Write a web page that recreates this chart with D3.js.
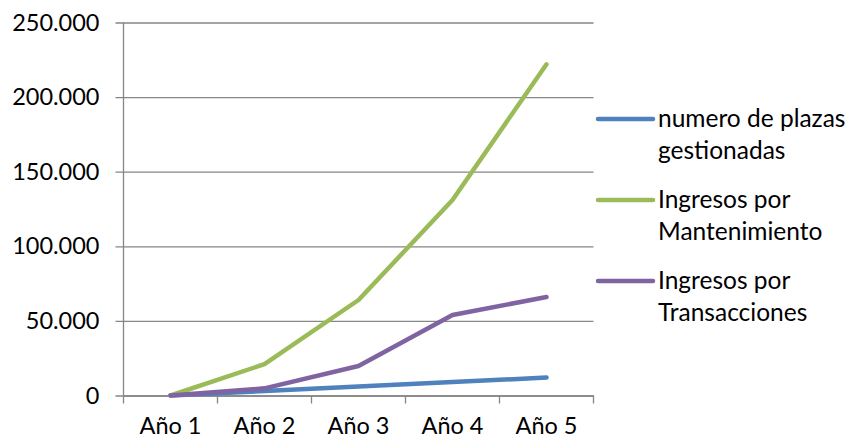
<!DOCTYPE html>
<html>
<head>
<meta charset="utf-8">
<script src="https://cdn.jsdelivr.net/npm/d3@7"></script>
<style>
  html, body { margin: 0; padding: 0; background: #fff; }
  svg text { font-family: Lato, "Open Sans", sans-serif; fill: #000; }
</style>
</head>
<body>
<svg id="chart" width="852" height="439"></svg>
<script>
// Años del plan
const categories = ["Año 1", "Año 2", "Año 3", "Año 4", "Año 5"];

// Series
const plazasGestionadas = [0, 3000, 6000, 9000, 12000];
const ingresosMantenimiento = [0, 21000, 64000, 131000, 222000];
const ingresosTransacciones = [0, 4800, 19800, 54000, 66000];

const seriesNames = ["numero de plazas gestionadas", "Ingresos por Mantenimiento", "Ingresos por Transacciones"];
const legendLines = [["numero de plazas", "gestionadas"], ["Ingresos por", "Mantenimiento"], ["Ingresos por", "Transacciones"]];
const seriesColors = ["#4F81BD", "#9BBB59", "#8064A2"];

// Y axis ticks
const yTicks = [0, 50000, 100000, 150000, 200000, 250000];

const series = [plazasGestionadas, ingresosMantenimiento, ingresosTransacciones];

const svg = d3.select("#chart");
const plot = { left: 123.5, right: 593.5, top: 22.5, bottom: 395.5 };
const fontSize = 23.5;

const x = d3.scaleBand().domain(categories).range([plot.left, plot.right]);
const y = d3.scaleLinear().domain([0, 250000]).range([plot.bottom, plot.top]);

const fmt = v => d3.format(",")(v).replace(/,/g, ".");
const gridColor = "#868686";

// Horizontal gridlines with left ticks
svg.append("g")
  .attr("transform", `translate(${plot.left},0)`)
  .call(d3.axisLeft(y).tickValues(yTicks).tickFormat(fmt)
    .tickSize(-(plot.right - plot.left)))
  .call(g => g.select(".domain").remove())
  .call(g => g.selectAll(".tick line").attr("stroke", gridColor).attr("stroke-width", 1.3)
      .attr("x1", -8))
  .call(g => g.selectAll(".tick text").attr("font-size", fontSize).attr("x", -24)
      .style("font-family", "Lato, 'Open Sans', sans-serif"));

// Vertical axis line
svg.append("line")
  .attr("x1", plot.left).attr("x2", plot.left)
  .attr("y1", plot.top).attr("y2", plot.bottom)
  .attr("stroke", gridColor).attr("stroke-width", 1.3);

// Category axis
const xAxis = svg.append("g")
  .attr("transform", `translate(0,${plot.bottom})`)
  .call(d3.axisBottom(x).tickSize(0).tickPadding(22));
xAxis.select(".domain").attr("stroke", gridColor).attr("stroke-width", 1.3);
xAxis.selectAll(".tick text").attr("font-size", fontSize)
  .style("font-family", "Lato, 'Open Sans', sans-serif");

// Category boundary ticks
const bounds = categories.map(c => x(c)).concat([x(categories[categories.length - 1]) + x.bandwidth()]);
svg.append("g").selectAll("line").data(bounds).join("line")
  .attr("x1", d => d).attr("x2", d => d)
  .attr("y1", plot.bottom).attr("y2", plot.bottom + 8)
  .attr("stroke", gridColor).attr("stroke-width", 1.3);

// Lines
const line = d3.line()
  .x((d, i) => x(categories[i]) + x.bandwidth() / 2)
  .y(d => y(d));

svg.append("g").selectAll("path").data(series).join("path")
  .attr("d", line)
  .attr("fill", "none")
  .attr("stroke", (d, i) => seriesColors[i])
  .attr("stroke-width", 4.5)
  .attr("stroke-linecap", "round")
  .attr("stroke-linejoin", "round");

// Legend
const legendY = [119, 200, 281];
const legend = svg.append("g").selectAll("g").data(seriesNames).join("g")
  .attr("transform", (d, i) => `translate(598,${legendY[i]})`);
legend.append("line")
  .attr("x1", 0).attr("x2", 55).attr("y1", 0).attr("y2", 0)
  .attr("stroke", (d, i) => seriesColors[i])
  .attr("stroke-width", 4.5).attr("stroke-linecap", "round");
legend.append("text")
  .attr("x", 60).attr("y", 8)
  .attr("font-size", 24.5)
  .selectAll("tspan").data((d, i) => legendLines[i]).join("tspan")
  .attr("x", 60).attr("dy", (d, j) => j === 0 ? 0 : 32)
  .text(d => d);
</script>
</body>
</html>
